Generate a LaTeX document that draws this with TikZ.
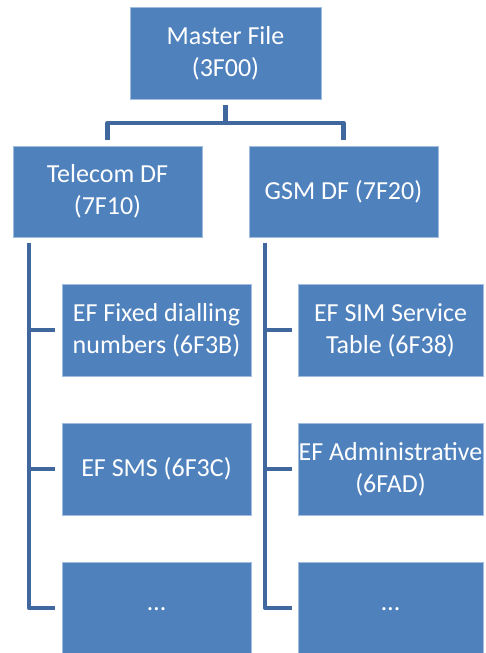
\documentclass[tikz,border=0pt]{standalone}
\usepackage{fontspec}
\setmainfont{Carlito}
\usetikzlibrary{positioning}

\definecolor{boxblue}{RGB}{79,129,189}
\definecolor{boxedge}{RGB}{160,188,222}
\definecolor{linkblue}{RGB}{64,104,158}

\begin{document}
\begin{tikzpicture}[x=1pt, y=-1pt,
  file/.style={fill=boxblue, draw=boxedge, line width=0.6pt, text=white,
    minimum width=189pt, minimum height=92pt, inner sep=0pt, align=center,
    font=\fontsize{26}{32}\selectfont},
  link/.style={draw=linkblue, line width=4.5pt, line join=round}]
\path[use as bounding box, clip] (0,0) rectangle (485,653);

\node[file, minimum width=191pt] (mf) at (225.5,53) {Master File\\(3F00)};
\node[file, minimum height=91pt] (tel) at (107.5,191.5) {Telecom DF\\(7F10)};
\node[file, minimum height=91pt] (gsm) at (343.5,191.5) {GSM DF (7F20)};

\node[file] (fdn) at (156.5,330) {EF Fixed dialling\\numbers (6F3B)};
\node[file] (sms) at (156.5,469) {EF SMS (6F3C)};
\node[file] (tmore) at (156.5,608) {\raisebox{-6pt}{\dots}};

\node[file, minimum width=185pt] (sst) at (390.5,330) {EF SIM Service\\Table (6F38)};
\node[file, minimum width=185pt] (ad) at (390.5,469) {EF Administrative\\(6FAD)};
\node[file, minimum width=185pt] (gmore) at (390.5,608) {\raisebox{-6pt}{\dots}};

\draw[link, shorten <=6pt, shorten >=6pt] (mf.south) -- ++(0,23.5) -| (tel.north);
\draw[link, shorten <=6pt, shorten >=6pt] (mf.south) -- ++(0,23.5) -| (gsm.north);

\foreach \f in {fdn, sms, tmore}
  \draw[link, shorten <=6pt, shorten >=7pt] ([xshift=16.5pt]tel.south west) |- (\f.west);
\foreach \f in {sst, ad, gmore}
  \draw[link, shorten <=6pt, shorten >=6pt] ([xshift=16.5pt]gsm.south west) |- (\f.west);
\end{tikzpicture}
\end{document}
